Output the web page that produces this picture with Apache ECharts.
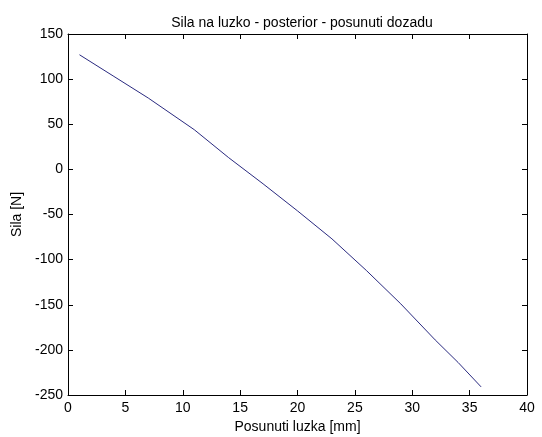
<!DOCTYPE html>
<html>
<head>
<meta charset="utf-8">
<script src="https://cdn.jsdelivr.net/npm/echarts@6/dist/echarts.min.js"></script>
<style>
  html, body { margin: 0; padding: 0; background: #fff; }
  #chart { width: 542px; height: 437px; }
</style>
</head>
<body>
<div id="chart"></div>
<script>
// posunuti luzka [mm]
const posunuti = [1, 4, 7, 11, 14, 17, 20, 23, 26, 29, 32, 34, 36];
// sila [N]
const sila = [127, 103, 79, 44, 13, -16, -46, -77, -112, -149, -189, -214, -241];
const xTicks = [0, 5, 10, 15, 20, 25, 30, 35, 40];
const yTicks = [-250, -200, -150, -100, -50, 0, 50, 100, 150];

const font = "Liberation Sans";
const tickStyle = { show: true, inside: true, length: 5, lineStyle: { color: "#000" } };

const chart = echarts.init(document.getElementById("chart"));
chart.setOption({
  backgroundColor: "#fff",
  animation: false,
  title: {
    text: "Sila na luzko - posterior - posunuti dozadu",
    left: 297,
    textAlign: "center",
    top: 11,
    textStyle: { fontFamily: font, fontSize: 14, fontWeight: "normal", color: "#000" },
  },
  grid: { left: 68, right: 15, top: 34, bottom: 42, outerBoundsMode: "none" },
  xAxis: [
    {
      type: "value",
      min: xTicks[0],
      max: xTicks[xTicks.length - 1],
      interval: 5,
      name: "Posunuti luzka [mm]",
      nameLocation: "middle",
      nameGap: 25,
      nameTextStyle: { fontFamily: font, fontSize: 14, color: "#000" },
      axisLine: { onZero: false, lineStyle: { color: "#000" } },
      axisTick: tickStyle,
      axisLabel: { fontFamily: font, fontSize: 14, color: "#000", margin: 6 },
      splitLine: { show: false },
    },
    {
      type: "value",
      position: "top",
      min: xTicks[0],
      max: xTicks[xTicks.length - 1],
      interval: 5,
      axisLine: { onZero: false, lineStyle: { color: "#000" } },
      axisTick: tickStyle,
      axisLabel: { show: false },
      splitLine: { show: false },
    },
  ],
  yAxis: [
    {
      type: "value",
      min: yTicks[0],
      max: yTicks[yTicks.length - 1],
      interval: 50,
      name: "Sila [N]",
      nameLocation: "middle",
      nameGap: 33,
      nameTextStyle: { fontFamily: font, fontSize: 14, color: "#000" },
      axisLine: { show: true, onZero: false, lineStyle: { color: "#000" } },
      axisTick: tickStyle,
      axisLabel: { fontFamily: font, fontSize: 14, color: "#000", margin: 5 },
      splitLine: { show: false },
    },
    {
      type: "value",
      position: "right",
      min: yTicks[0],
      max: yTicks[yTicks.length - 1],
      interval: 50,
      axisLine: { show: true, onZero: false, lineStyle: { color: "#000" } },
      axisTick: tickStyle,
      axisLabel: { show: false },
      splitLine: { show: false },
    },
  ],
  series: [
    {
      type: "line",
      data: posunuti.map((x, i) => [x, sila[i]]),
      showSymbol: false,
      lineStyle: { color: "#2a2a80", width: 1 },
    },
  ],
});
</script>
</body>
</html>
